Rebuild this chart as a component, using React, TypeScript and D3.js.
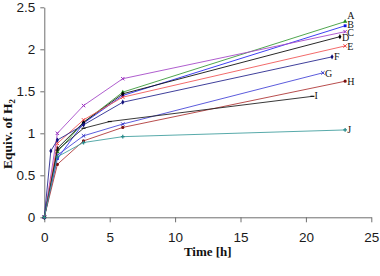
import React, { useRef, useEffect } from "react";
import * as d3 from "d3";

// series labels and the values
const seriesNames = ["A", "B", "C", "D", "E", "F", "G", "H", "I", "J"];
const seriesTimes = [
  [0, 1, 3, 6, 23],
  [0, 1, 3, 6, 23],
  [0, 1, 3, 6, 23],
  [0, 1, 3, 6, 22.6],
  [0, 1, 3, 6, 23],
  [0, 0.5, 1, 3, 6, 22],
  [0, 1, 3, 6, 21.3],
  [0, 1, 3, 6, 23],
  [0, 1, 3, 5, 20.5],
  [0, 1, 3, 6, 23],
];
const seriesValues = [
  [0, 0.78, 1.13, 1.49, 2.33],
  [0, 0.7, 1.12, 1.45, 2.28],
  [0, 1.0, 1.33, 1.65, 2.21],
  [0, 0.82, 1.13, 1.47, 2.15],
  [0, 0.88, 1.16, 1.43, 2.04],
  [0, 0.79, 0.92, 1.1, 1.37, 1.91],
  [0, 0.74, 0.97, 1.11, 1.72],
  [0, 0.63, 0.91, 1.07, 1.62],
  [0, 0.8, 1.06, 1.14, 1.44],
  [0, 0.72, 0.89, 0.96, 1.04],
];
const xTicks = [0, 5, 10, 15, 20, 25];
const yTicks = [0, 0.5, 1, 1.5, 2, 2.5];

const lineColors = [
  "#3c9c3c", "#2a2af0", "#a64cc8", "#111111", "#f05a5a",
  "#2a2a90", "#4a4ad8", "#b03a3a", "#222222", "#45a0a0",
];
const markerColors = [
  "#1f8a1f", "#1010e0", "#9a30c0", "#000000", "#ee4040",
  "#10107a", "#3535c8", "#7a1010", "#111111", "#2a8a8a",
];
const markerTypes = [
  d3.symbolTriangle, d3.symbolSquare, d3.symbolX, d3.symbolDiamond, d3.symbolX,
  d3.symbolDiamond, d3.symbolX, d3.symbolCircle, null, d3.symbolCross,
];
// vertical nudge of each end label, as in the picture
const labelDy = [-2.5, 2, 4, 4, 4, 3.5, 4.5, 4, 3, 3.5];

const width = 380;
const height = 276;
const margin = { left: 44.3, right: 8.7, top: 7.3, bottom: 58.7 };

const App = () => {
  const svgRef = useRef<SVGSVGElement>(null);

  useEffect(() => {
    const svg = d3.select(svgRef.current).append("g");

    const x = d3
      .scaleLinear()
      .domain([0, 25])
      .range([margin.left, width - margin.right]);
    const y = d3
      .scaleLinear()
      .domain([0, 2.5])
      .range([height - margin.bottom, margin.top]);

    const xAxis = svg
      .append("g")
      .attr("transform", "translate(0," + y(0) + ")")
      .call(
        d3.axisBottom(x).tickValues(xTicks).tickSize(5).tickSizeOuter(0).tickPadding(10)
      );
    const yAxis = svg
      .append("g")
      .attr("transform", "translate(" + x(0) + ",0)")
      .call(
        d3
          .axisLeft(y)
          .tickValues(yTicks)
          .tickFormat(d3.format("~g"))
          .tickSize(4)
          .tickSizeOuter(0)
          .tickPadding(5)
      );
    [xAxis, yAxis].forEach((a) => {
      a.selectAll("path, line").attr("stroke", "#6e6e6e");
      a.selectAll("text")
        .attr("fill", "#1a1a1a")
        .style("font-family", "'Liberation Sans', Arial, sans-serif")
        .style("font-size", "13.5px");
    });

    const line = d3
      .line<[number, number]>()
      .x((d) => x(d[0]))
      .y((d) => y(d[1]));

    seriesNames.forEach((name, i) => {
      const pts: [number, number][] = seriesTimes[i].map((t, j) => [
        t,
        seriesValues[i][j],
      ]);
      svg
        .append("path")
        .attr("d", line(pts))
        .attr("fill", "none")
        .attr("stroke", lineColors[i])
        .attr("stroke-width", 0.9);

      const type = markerTypes[i];
      pts.forEach((p) => {
        if (type) {
          const outline = type === d3.symbolX;
          svg
            .append("path")
            .attr("d", d3.symbol(type, outline ? 9 : 8)())
            .attr("transform", "translate(" + x(p[0]) + "," + y(p[1]) + ")")
            .attr("fill", outline ? "none" : markerColors[i])
            .attr("stroke", outline ? markerColors[i] : "none")
            .attr("stroke-width", 1);
        } else {
          svg
            .append("line")
            .attr("x1", x(p[0]) - 2)
            .attr("x2", x(p[0]) + 2)
            .attr("y1", y(p[1]))
            .attr("y2", y(p[1]))
            .attr("stroke", markerColors[i])
            .attr("stroke-width", 1.2);
        }
      });

      const last = pts[pts.length - 1];
      svg
        .append("text")
        .attr("x", x(last[0]) + 2)
        .attr("y", y(last[1]) + labelDy[i])
        .style("font-family", "'Liberation Serif', 'Times New Roman', serif")
        .style("font-size", "10px")
        .attr("fill", "#111")
        .text(name);
    });

    svg
      .append("text")
      .attr("x", (margin.left + width - margin.right) / 2)
      .attr("y", 256)
      .attr("text-anchor", "middle")
      .style("font-family", "'Liberation Serif', 'Times New Roman', serif")
      .style("font-size", "13px")
      .style("font-weight", "bold")
      .attr("fill", "#111")
      .text("Time [h]");

    const yTitle = svg
      .append("text")
      .attr("transform", "translate(12,134) rotate(-90)")
      .attr("text-anchor", "middle")
      .style("font-family", "'Liberation Serif', 'Times New Roman', serif")
      .style("font-size", "13.5px")
      .style("font-weight", "bold")
      .attr("fill", "#111");
    yTitle.append("tspan").text("Equiv. of H");
    yTitle
      .append("tspan")
      .attr("dy", 3)
      .style("font-size", "9px")
      .text("2");

    return () => {
      svg.remove();
    };
  }, []);

  return (
    <svg
      ref={svgRef}
      width={width}
      height={height}
      style={{ position: "absolute", left: 0, top: 0, background: "#fff" }}
    />
  );
};

export default App;
